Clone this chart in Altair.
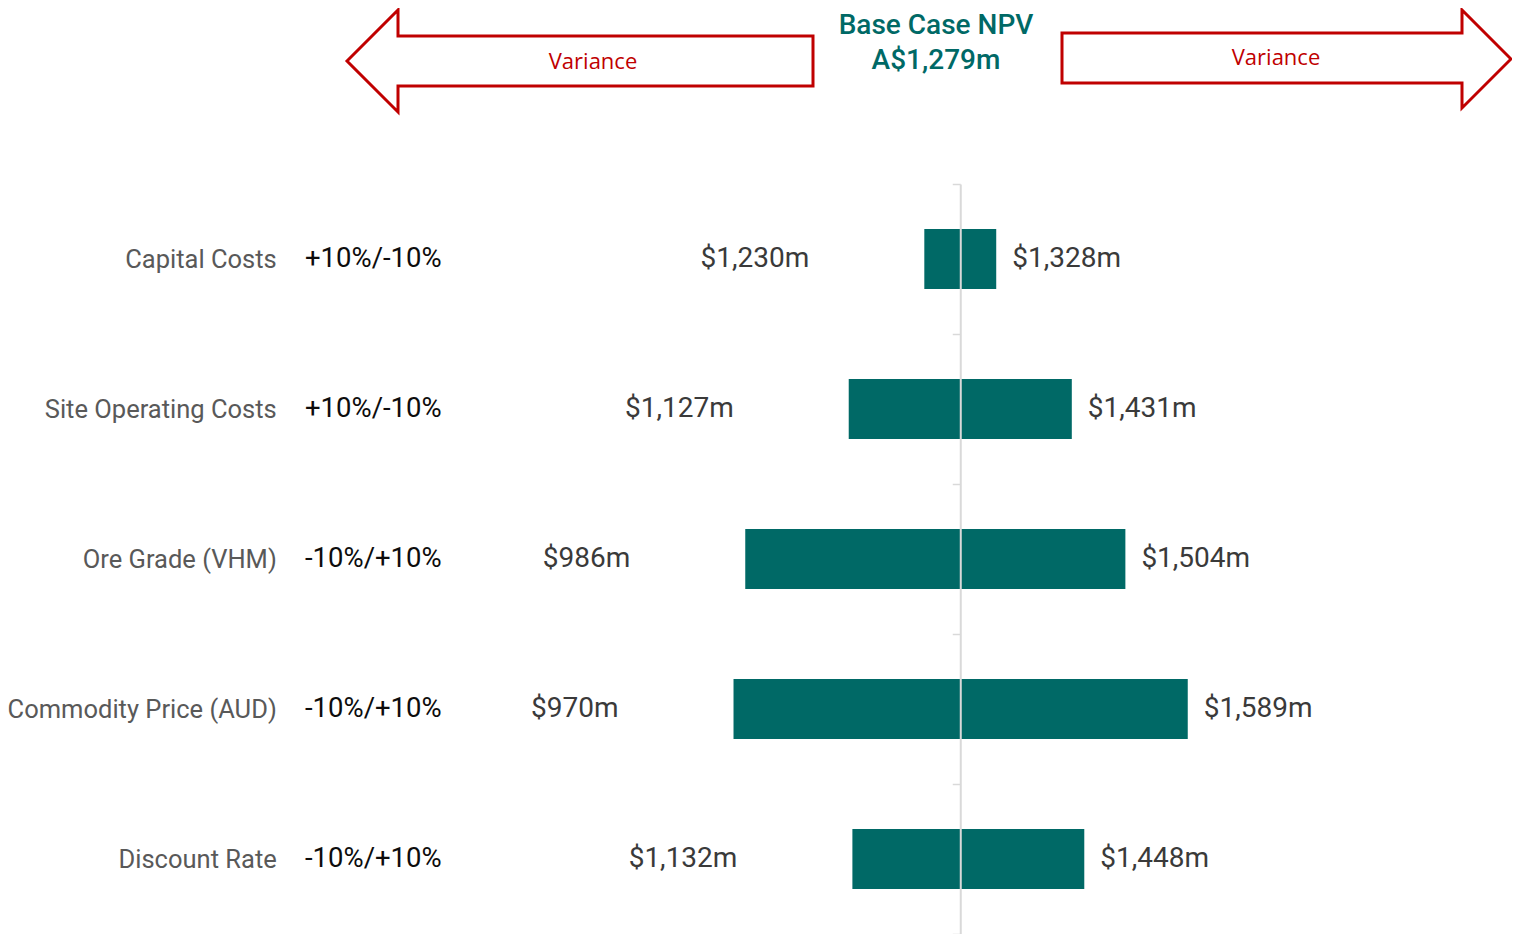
import altair as alt
import pandas as pd

# ---- data ----
categories = ["Capital Costs", "Site Operating Costs", "Ore Grade (VHM)",
              "Commodity Price (AUD)", "Discount Rate"]
sensitivity = ["+10%/-10%", "+10%/-10%", "-10%/+10%", "-10%/+10%", "-10%/+10%"]
npv_low = [1230, 1127, 986, 970, 1132]
npv_high = [1328, 1431, 1504, 1589, 1448]
base_npv = 1279
title_lines = ["Base Case NPV", "A$1,279m"]
arrow_label = "Variance"

df = pd.DataFrame({"category": categories, "sens": sensitivity,
                   "low": npv_low, "high": npv_high})

TEAL = "#006966"
RED = "#C00000"
FONT = "Roboto"

X_MIN, X_MAX = 600, 1960
W, H = 998, 750
PAD_L, PAD_T = 454, 176
OX, OY = 8 + PAD_L, 8 + PAD_T   # page position of plot origin

x_scale = alt.Scale(domain=[X_MIN, X_MAX], nice=False, zero=False)
y_scale = alt.Scale(domain=categories, paddingInner=0, paddingOuter=0)

# axis placed at the base case value
axis_offset = -(base_npv - X_MIN) / (X_MAX - X_MIN) * W
y_axis = alt.Axis(title=None, orient="left", offset=axis_offset,
                  domainColor="#D9D9D9", domainWidth=2,
                  tickColor="#D9D9D9", tickWidth=1.5, tickSize=8,
                  tickBand="extent", labelPadding=676, labelLimit=500,
                  labelFont=FONT, labelFontSize=25.5, labelColor="#595959",
                  zindex=1)
y_enc = alt.Y("category:N", sort=categories, scale=y_scale, axis=y_axis)

base = alt.Chart(df)

bars = base.mark_bar(color=TEAL, height=alt.RelativeBandSize(0.4)).encode(
    x=alt.X("low:Q", scale=x_scale, axis=None),
    x2="high:Q",
    y=y_enc,
)

left_lbl = base.transform_calculate(
    lbl="'$' + format(datum.low, ',') + 'm'"
).mark_text(align="right", baseline="middle", dx=-115, font=FONT,
            fontSize=28, color="#3A3A3A").encode(
    x=alt.X("low:Q", scale=x_scale, axis=None), y=y_enc, text="lbl:N")

right_lbl = base.transform_calculate(
    lbl="'$' + format(datum.high, ',') + 'm'"
).mark_text(align="left", baseline="middle", dx=16, font=FONT,
            fontSize=28, color="#3A3A3A").encode(
    x=alt.X("high:Q", scale=x_scale, axis=None), y=y_enc, text="lbl:N")

pct = base.mark_text(align="left", baseline="middle", font=FONT,
                     fontSize=27.5, color="#0D0D0D").encode(
    x=alt.value(305 - OX), y=y_enc, text="sens:N")

one = alt.Chart(pd.DataFrame({"k": [0]}))

title = one.mark_text(text=title_lines, align="center", baseline="middle",
                      font=FONT, fontSize=28, fontWeight=500, lineHeight=35,
                      color=TEAL).encode(
    x=alt.value(936 - OX), y=alt.value(26 - OY))

left_arrow_path = "M -233 0 L -182 -51 L -182 -25 L 233 -25 L 233 25 L -182 25 L -182 51 Z"
right_arrow_path = "M -225 -26 L 175 -26 L 175 -49 L 224 0 L 175 49 L 175 24 L -225 24 Z"

arrow_l = one.mark_point(shape=left_arrow_path, filled=False, stroke=RED,
                         strokeWidth=3, size=4, opacity=1).encode(
    x=alt.value(580 - OX), y=alt.value(61 - OY))
arrow_r = one.mark_point(shape=right_arrow_path, filled=False, stroke=RED,
                         strokeWidth=3, size=4, opacity=1).encode(
    x=alt.value(1287 - OX), y=alt.value(59 - OY))

var_l = one.mark_text(text=arrow_label, align="center", baseline="middle",
                      font="Open Sans", fontSize=22, color=RED).encode(
    x=alt.value(593 - OX), y=alt.value(62 - OY))
var_r = one.mark_text(text=arrow_label, align="center", baseline="middle",
                      font="Open Sans", fontSize=22, color=RED).encode(
    x=alt.value(1276 - OX), y=alt.value(58 - OY))

chart = alt.layer(
    arrow_l, arrow_r, var_l, var_r, title, bars, left_lbl, right_lbl, pct
).properties(
    width=W, height=H, background="white",
    padding={"left": PAD_L, "top": PAD_T, "right": 1504 - PAD_L - W, "bottom": 0},
    autosize=alt.AutoSizeParams(type="none"),
).configure_view(stroke=None)

chart.save("out.html", embed_options={"renderer": "svg", "actions": False})
